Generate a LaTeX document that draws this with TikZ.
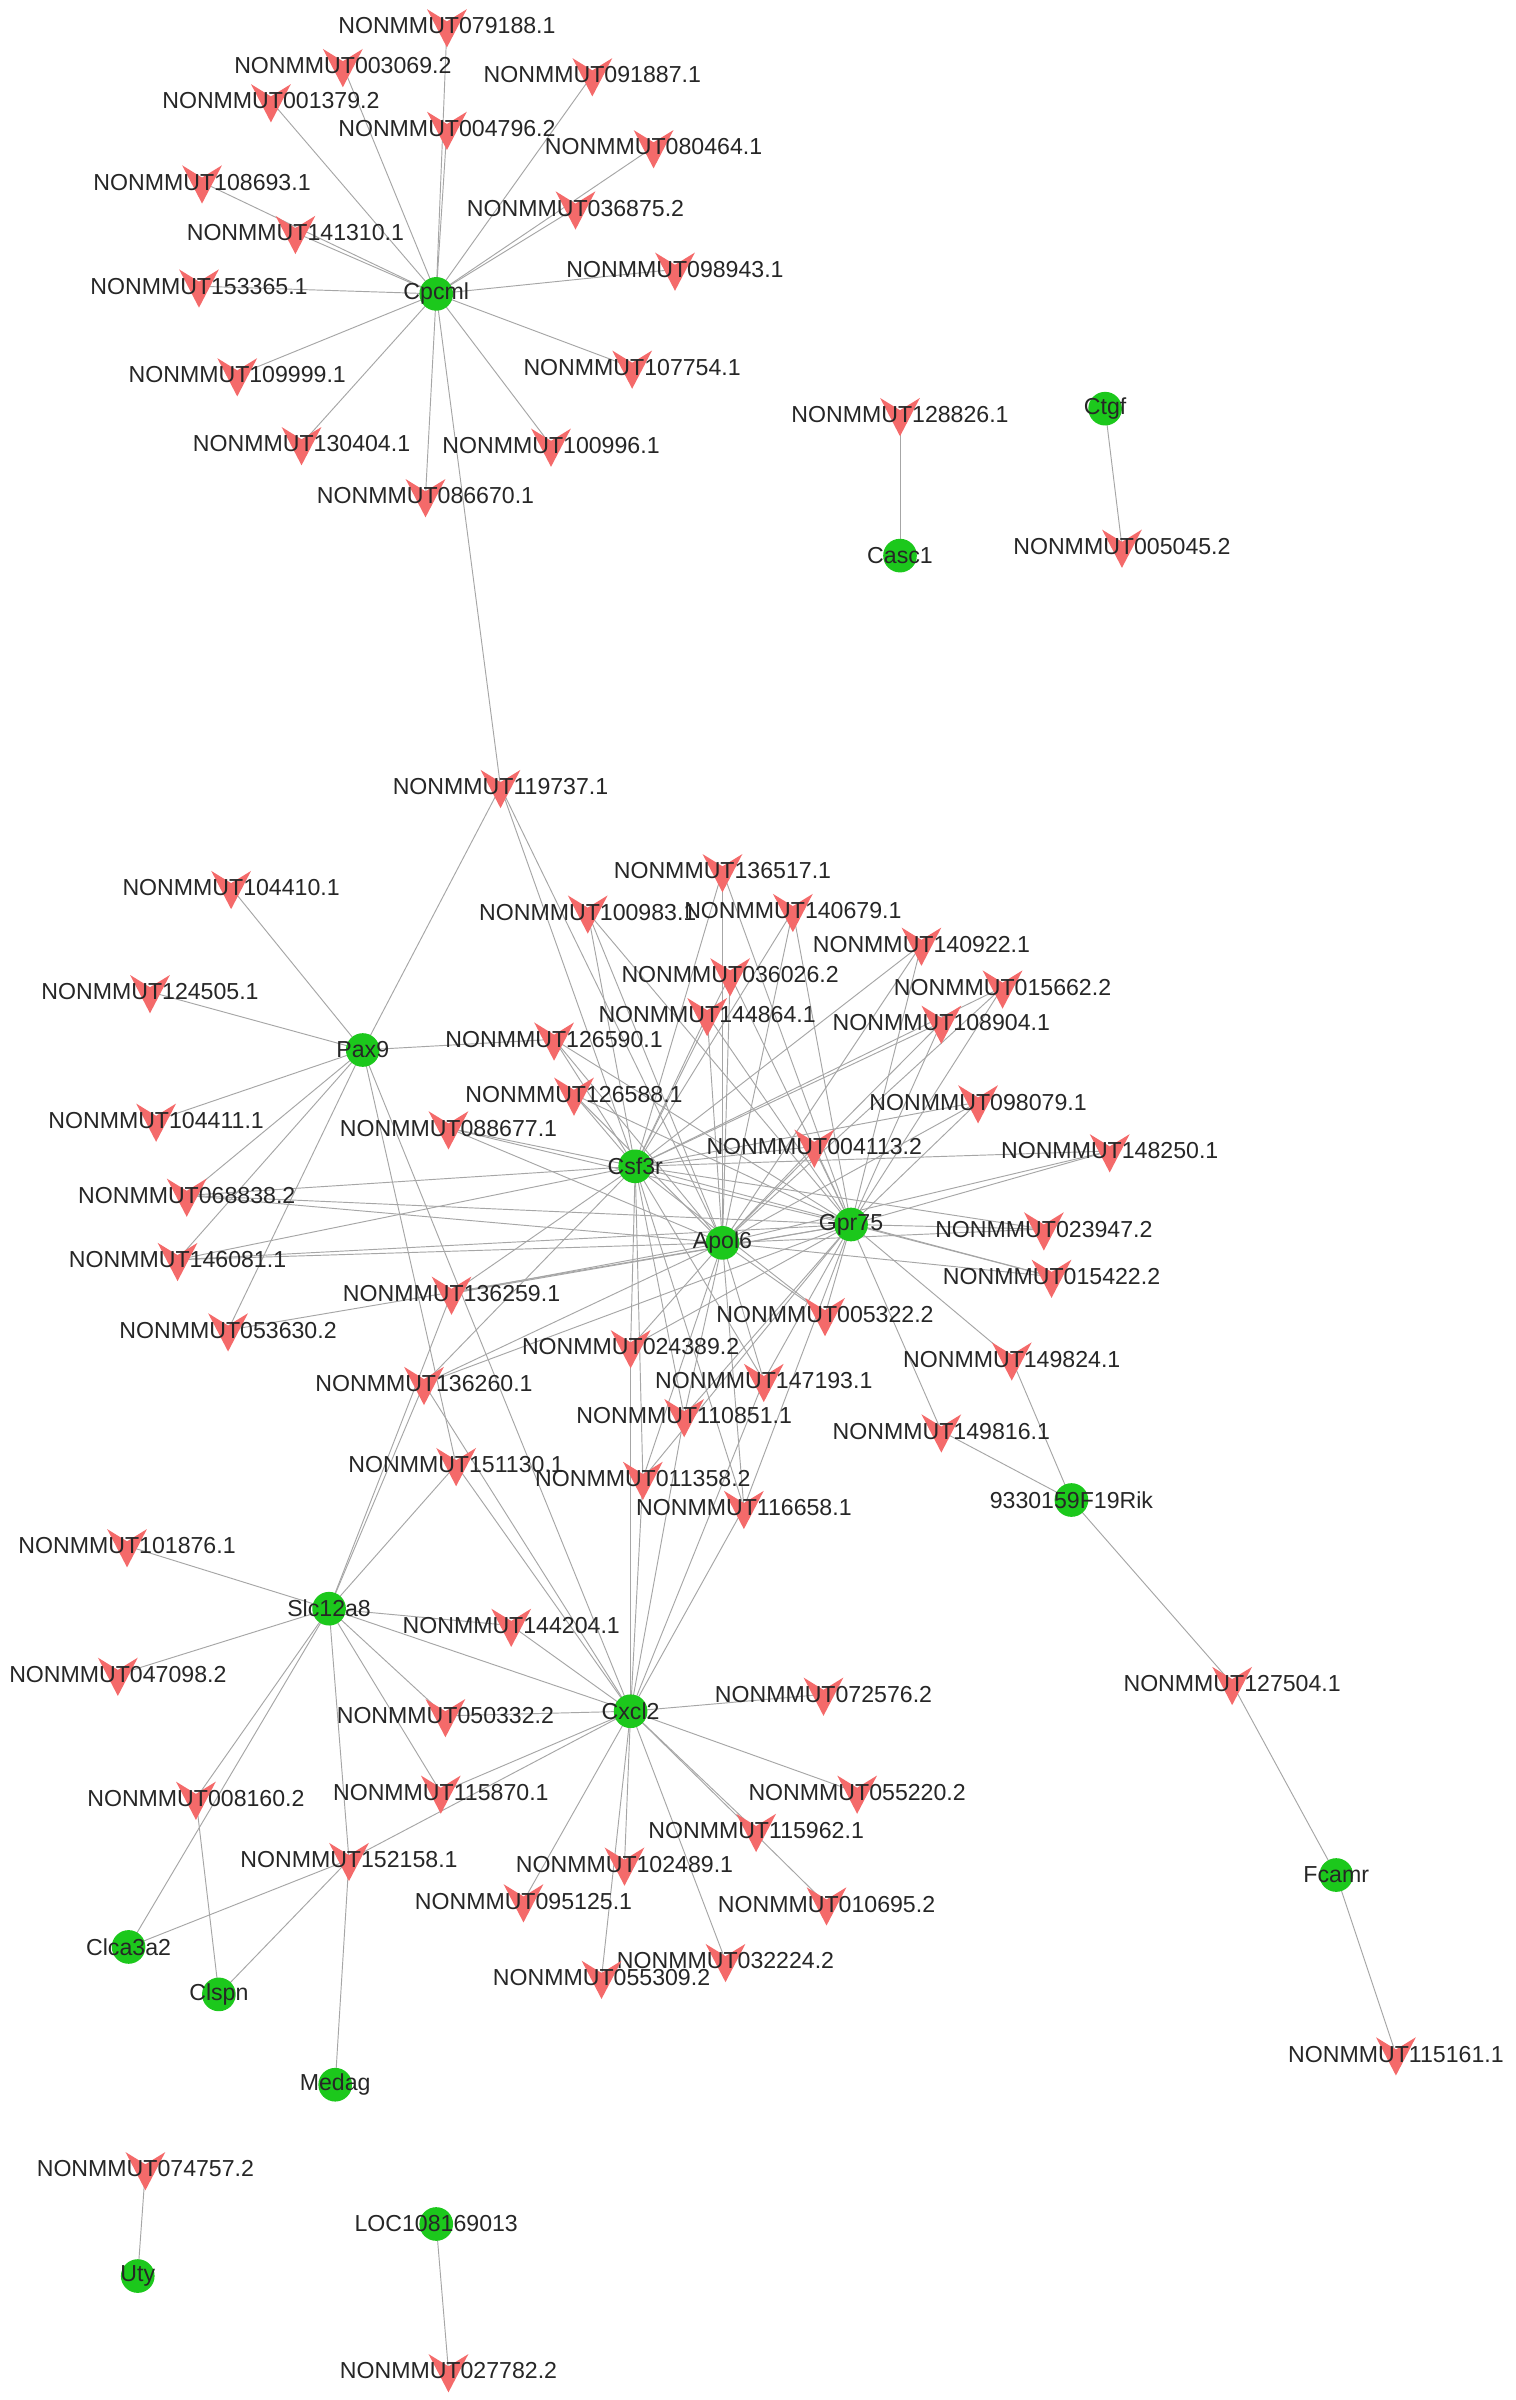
\documentclass[tikz,border=0pt]{standalone}
\usepackage{fontspec}
\setmainfont{Liberation Sans}
\definecolor{gn}{HTML}{1CC81C}
\definecolor{rd}{HTML}{F46A6A}
\begin{document}
\begin{tikzpicture}[x=0.02cm,y=-0.02cm,
  edge/.style={draw=gray!70,line width=0.35pt},
  gene/.style={circle,fill=gn,minimum size=0.44cm,inner sep=0},
  lab/.style={font=\fontsize{8.6}{9}\selectfont,inner sep=0,text=black!85}]
\useasboundingbox (0,0) rectangle (990,1568);
\fill[white] (0,0) rectangle (990,1568);
% genes
\foreach \n/\x/\y in {Cpcml/285/192,Casc1/588/363,Ctgf/722/267,Pax9/237/686,Csf3r/415/762,Apole/472/812,Gpr75/556/800,Rik/700/980,Slc12a8/215/1051,Cxcl2/412/1118,Fcamr/873/1225,Clca3a2/84/1272,Clspn/143/1303,Medag/219/1362,Uty/90/1487,LOC/285/1453}
  \coordinate (\n) at (\x,\y);
% lncRNAs
\foreach \n/\d/\x/\y in {079188/1/292/17,003069/2/224/43,091887/1/387/49,001379/2/177/66,004796/2/292/84,080464/1/427/96,108693/1/132/119,036875/2/376/136,141310/1/193/152,098943/1/441/176,153365/1/130/187,107754/1/413/240,109999/1/155/245,130404/1/197/290,100996/1/360/291,086670/1/278/324,128826/1/588/271,005045/2/733/357,119737/1/327/514,104410/1/151/580,136517/1/472/569,100983/1/384/596,140679/1/518/595,140922/1/602/617,124505/1/98/648,036026/2/477/637,015662/2/655/645,144864/1/462/663,108904/1/615/668,126590/1/362/679,126588/1/375/715,098079/1/639/720,104411/1/102/732,088677/1/293/737,004113/2/532/749,148250/1/725/752,068838/2/122/781,023947/2/682/803,146081/1/116/823,015422/2/687/834,136259/1/295/845,005322/2/539/859,053630/2/149/869,024389/2/412/880,149824/1/661/888,147193/1/499/902,136260/1/277/904,110851/1/447/925,149816/1/615/935,151130/1/298/957,011358/2/420/966,116658/1/486/985,101876/1/83/1010,144204/1/334/1062,047098/2/77/1094,127504/1/805/1100,072576/2/538/1107,050332/2/291/1121,055220/2/560/1171,115870/1/288/1171,008160/2/128/1175,115962/1/494/1196,152158/1/228/1215,102489/1/408/1218,095125/1/342/1242,010695/2/540/1244,032224/2/474/1281,055309/2/393/1292,115161/1/912/1342,074757/2/95/1417,027782/2/293/1549}
  {\coordinate (L\n) at (\x,\y);}
% edges
\foreach \a in {079188,003069,091887,001379,004796,080464,108693,036875,141310,098943,153365,107754,109999,130404,100996,086670,119737}
  \draw[edge] (Cpcml) -- (L\a);
\draw[edge] (L128826) -- (Casc1);
\draw[edge] (Ctgf) -- (L005045);
\foreach \a in {104410,124505,104411,068838,146081,053630,126590,119737,151130}
  \draw[edge] (Pax9) -- (L\a);
\draw[edge] (L119737) -- (Csf3r);
\draw[edge] (L119737) -- (Apole);
\foreach \a in {136517,100983,140679,140922,036026,015662,144864,108904,126590,126588,098079,088677,004113,148250,068838,146081,023947,015422,136259,005322,024389,147193,136260,110851,011358,116658}
  {\draw[edge] (Csf3r) -- (L\a); \draw[edge] (Apole) -- (L\a); \draw[edge] (Gpr75) -- (L\a);}
\foreach \a in {149824,149816,053630}
  \draw[edge] (Gpr75) -- (L\a);
\draw[edge] (L149824) -- (Rik);
\draw[edge] (L149816) -- (Rik);
\draw[edge] (Rik) -- (L127504) -- (Fcamr) -- (L115161);
\foreach \a in {101876,047098,144204,050332,115870,008160,151130,136260,136259}
  \draw[edge] (Slc12a8) -- (L\a);
\draw[edge] (Slc12a8) -- (Clca3a2);
\draw[edge] (Slc12a8) -- (Cxcl2);
\draw[edge] (L008160) -- (Clspn);
\draw[edge] (L152158) -- (Clca3a2);
\draw[edge] (L152158) -- (Clspn);
\draw[edge] (L152158) -- (Medag);
\draw[edge] (L152158) -- (Slc12a8);
\foreach \a in {072576,055220,115962,102489,095125,010695,032224,055309,050332,144204,151130,011358,116658,110851,024389,152158,115870,136260,147193}
  \draw[edge] (Cxcl2) -- (L\a);
\draw[edge] (Pax9) -- (Cxcl2);
\draw[edge] (Uty) -- (L074757);
\draw[edge] (LOC) -- (L027782);
% markers
\foreach \a/\d in {079188/1,003069/2,091887/1,001379/2,004796/2,080464/1,108693/1,036875/2,141310/1,098943/1,153365/1,107754/1,109999/1,130404/1,100996/1,086670/1,128826/1,005045/2,119737/1,104410/1,136517/1,100983/1,140679/1,140922/1,124505/1,036026/2,015662/2,144864/1,108904/1,126590/1,126588/1,098079/1,104411/1,088677/1,004113/2,148250/1,068838/2,023947/2,146081/1,015422/2,136259/1,005322/2,053630/2,024389/2,149824/1,147193/1,136260/1,110851/1,149816/1,151130/1,011358/2,116658/1,101876/1,144204/1,047098/2,127504/1,072576/2,050332/2,055220/2,115870/1,008160/2,115962/1,152158/1,102489/1,095125/1,010695/2,032224/2,055309/2,115161/1,074757/2,027782/2}
  {\fill[rd] ([shift={(-13,-11)}]L\a) -- ([shift={(0,14)}]L\a) -- ([shift={(13,-11)}]L\a) -- ([shift={(0,-3)}]L\a) -- cycle;
   \node[lab] at (L\a) {NONMMUT\a.\d};}
\foreach \n/\t in {Cpcml/Cpcml,Casc1/Casc1,Ctgf/Ctgf,Pax9/Pax9,Csf3r/Csf3r,Apole/Apol6,Gpr75/Gpr75,Rik/9330159F19Rik,Slc12a8/Slc12a8,Cxcl2/Cxcl2,Fcamr/Fcamr,Clca3a2/Clca3a2,Clspn/Clspn,Medag/Medag,Uty/Uty,LOC/LOC108169013}
  {\node[gene] (g\n) at (\n) {}; \node[lab] at (\n) {\t};}
\end{tikzpicture}
\end{document}
